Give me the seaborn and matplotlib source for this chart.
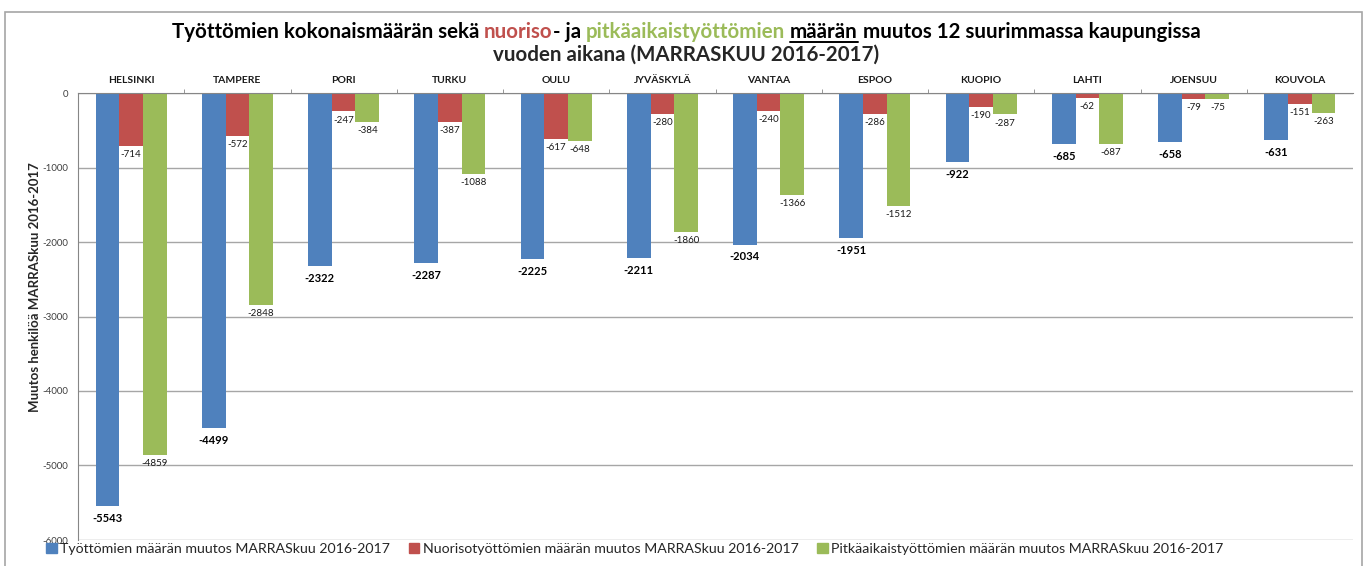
import numpy as np
import pandas as pd
import matplotlib
matplotlib.use("Agg")
import matplotlib.pyplot as plt
from matplotlib.lines import Line2D
from matplotlib.patches import Rectangle
import seaborn as sns

cities = ["HELSINKI", "TAMPERE", "PORI", "TURKU", "OULU", "JYVÄSKYLÄ",
          "VANTAA", "ESPOO", "KUOPIO", "LAHTI", "JOENSUU", "KOUVOLA"]
total = [-5543, -4499, -2322, -2287, -2225, -2211, -2034, -1951, -922, -685, -658, -631]
youth = [-714, -572, -247, -387, -617, -280, -240, -286, -190, -62, -79, -151]
longterm = [-4859, -2848, -384, -1088, -648, -1860, -1366, -1512, -287, -687, -75, -263]
series_names = ["Työttömien määrän muutos MARRASkuu 2016-2017",
                "Nuorisotyöttömien määrän muutos MARRASkuu 2016-2017",
                "Pitkäaikaistyöttömien määrän muutos MARRASkuu 2016-2017"]
colors = ["#4F81BD", "#C0504D", "#9BBB59"]
yticks = [0, -1000, -2000, -3000, -4000, -5000, -6000]
ylabel = "Muutos henkilöä MARRASkuu 2016-2017"

sns.set_style("white")
plt.rcParams["font.family"] = ["Lato", "DejaVu Sans"]

df = pd.DataFrame({
    "city": cities * 3,
    "value": total + youth + longterm,
    "series": [series_names[0]] * 12 + [series_names[1]] * 12 + [series_names[2]] * 12,
})

W, H = 1367, 566
fig = plt.figure(figsize=(W / 100, H / 100), dpi=100)
ax = fig.add_axes([78 / W, 1 - 540 / H, (1353 - 78) / W, (540 - 93) / H])

sns.barplot(data=df, x="city", y="value", hue="series", order=cities,
            hue_order=series_names, palette=colors, saturation=1,
            width=0.67, errorbar=None, ax=ax, legend=False, linewidth=0)

ax.set_ylim(-6000, 0)
ax.set_xlim(-0.5, 11.5)
ax.set_yticks(yticks)
ax.set_yticklabels([str(v) for v in yticks], fontsize=7, color="#404040")
ax.yaxis.grid(True, color="#A6A6A6", linewidth=1)
ax.set_axisbelow(True)
for s in ["right", "bottom"]:
    ax.spines[s].set_visible(False)
ax.spines["left"].set_color("#868686")
ax.spines["top"].set_color("#868686")
ax.tick_params(axis="y", length=4, color="#868686", pad=3, direction="out")

ax.xaxis.tick_top()
ax.set_xticks(range(len(cities)))
ax.set_xticklabels(cities, fontsize=7.5, fontweight="bold", color="#1a1a1a")
ax.tick_params(axis="x", which="major", length=0, pad=6)
ax.set_xticks(np.arange(0.5, 11.5, 1), minor=True)
ax.tick_params(axis="x", which="minor", length=3, color="#868686", direction="out", top=True)
ax.set_xlabel("")
ax.set_ylabel(ylabel, fontsize=9.5, fontweight="bold")
ax.yaxis.set_label_coords(-0.029, 0.566)

for i, cont in enumerate(ax.containers):
    if i == 0:
        ax.bar_label(cont, fmt="%d", padding=5, fontsize=8, fontweight="bold", color="black")
    else:
        ax.bar_label(cont, fmt="%d", padding=3, fontsize=7, color="#1a1a1a")

handles = [Rectangle((0, 0), 1, 1, color=c) for c in colors]
fig.legend(handles, series_names, loc="center left", bbox_to_anchor=(46 / W, 1 - 549 / H),
           ncol=3, frameon=False, fontsize=10.2, handlelength=0.75, handleheight=0.75,
           handletextpad=0.25, columnspacing=1.3, borderaxespad=0, borderpad=0)

# outer border
fig.patches.append(Rectangle((5 / W, -0.02), (1362 - 5) / W, 1 - 12 / H + 0.02,
                             transform=fig.transFigure, fill=False,
                             edgecolor="#A6A6A6", linewidth=1.2))

# title with coloured parts
tsize = 14.8
pieces = [("Työttömien kokonaismäärän sekä ", "black", False),
          ("nuoriso", "#C0504D", False),
          ("- ja ", "black", False),
          ("pitkäaikaistyöttömien", "#9BBB59", False),
          (" ", "black", False),
          ("määrän", "black", True),
          (" muutos 12 suurimmassa kaupungissa", "black", False)]
renderer = fig.canvas.get_renderer()

def text_width(s):
    t = fig.text(0, 0, s + "x", fontsize=tsize, fontweight="bold")
    w1 = t.get_window_extent(renderer).width
    t.remove()
    t = fig.text(0, 0, "x", fontsize=tsize, fontweight="bold")
    w2 = t.get_window_extent(renderer).width
    t.remove()
    return w1 - w2

full = "".join(p[0] for p in pieces)
total_w = text_width(full)
x0 = 686 - total_w / 2
base1 = H - 38
prefix = ""
for s, c, ul in pieces:
    xp = x0 + text_width(prefix)
    fig.text(xp / W, base1 / H, s, fontsize=tsize, fontweight="bold", color=c,
             va="baseline", ha="left")
    if ul:
        wpiece = text_width(s)
        fig.add_artist(Line2D([xp / W, (xp + wpiece) / W], [(base1 - 3.5) / H] * 2,
                              transform=fig.transFigure, color="black", linewidth=1.4))
    prefix += s
fig.text(686 / W, (H - 61) / H, "vuoden aikana (MARRASKUU 2016-2017)", fontsize=tsize,
         fontweight="bold", ha="center", va="baseline")

fig.savefig("out.png", dpi=100, facecolor="white")
